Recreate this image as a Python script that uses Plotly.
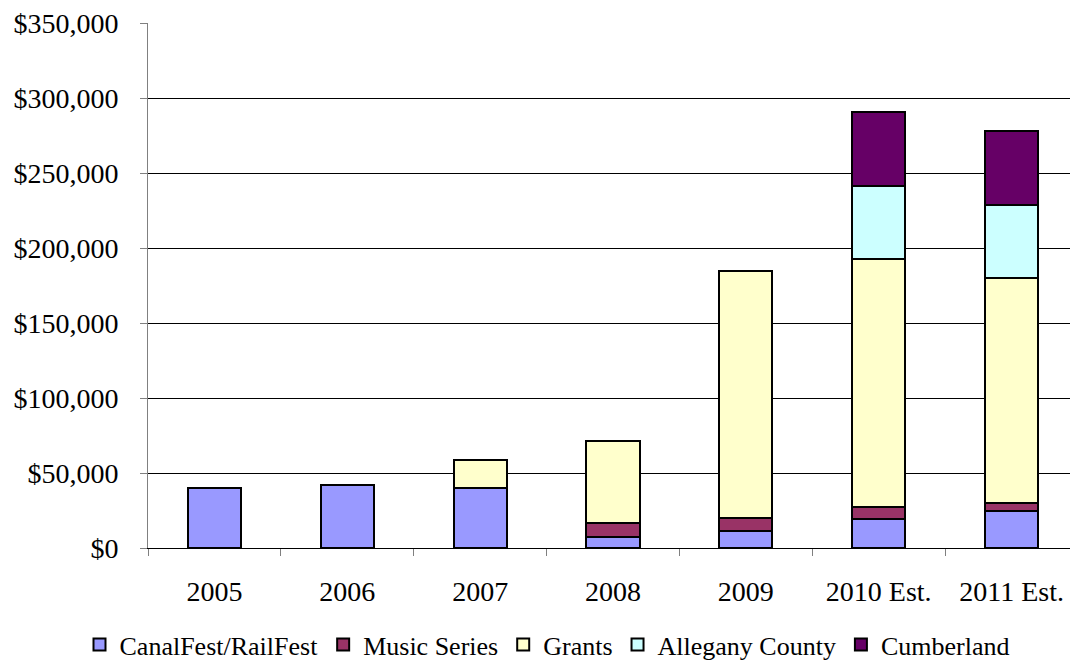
import plotly.graph_objects as go

categories = ["2005", "2006", "2007", "2008", "2009", "2010 Est.", "2011 Est."]
canalfest = [40000, 42000, 40000, 7500, 11500, 19500, 24500]
music = [None, None, None, 9000, 8500, 8000, 5500]
grants = [None, None, 19000, 55000, 165000, 165000, 150000]
allegany = [None, None, None, None, None, 49000, 49000]
cumberland = [None, None, None, None, None, 49500, 49000]

series = [
    ("CanalFest/RailFest", canalfest, "#9999FF"),
    ("Music Series", music, "#993366"),
    ("Grants", grants, "#FFFFCC"),
    ("Allegany County", allegany, "#CCFFFF"),
    ("Cumberland", cumberland, "#660066"),
]

fig = go.Figure()
for name, vals, color in series:
    fig.add_trace(go.Bar(
        x=categories, y=vals, name=name,
        marker=dict(color=color, line=dict(color="black", width=2)),
    ))

font_family = "Liberation Serif"
fig.update_layout(
    barmode="stack",
    bargap=0.6,
    width=1078, height=660,
    margin=dict(l=140, r=8, t=15, b=120),
    plot_bgcolor="white",
    paper_bgcolor="white",
    font=dict(family=font_family, size=28, color="black"),
    showlegend=True,
    legend=dict(
        orientation="h", xref="container", x=0.5, xanchor="center",
        yref="container", y=0.0, yanchor="bottom",
        font=dict(family=font_family, size=26, color="black"),
        bgcolor="rgba(0,0,0,0)",
        traceorder="normal", itemwidth=30, tracegroupgap=0,
    ),
    xaxis=dict(
        type="category", range=[-0.5, 6.5], automargin=False,
        showline=True, linecolor="black", linewidth=1,
        ticks="outside", tickson="boundaries", ticklen=7, tickcolor="#808080",
        showgrid=False, ticklabelstandoff=18, ticklabeloverflow="allow",
        tickfont=dict(family=font_family, size=28),
    ),
    yaxis=dict(
        range=[0, 350000], dtick=50000, automargin=False,
        tickprefix="$", tickformat=",d",
        showgrid=True, gridcolor="black", gridwidth=1,
        showline=True, linecolor="#808080", linewidth=1,
        ticks="outside", ticklen=7, tickcolor="#808080",
        zeroline=False, ticklabelstandoff=16, ticklabeloverflow="allow",
        tickfont=dict(family=font_family, size=28),
    ),
)

fig.write_html("out.html")
